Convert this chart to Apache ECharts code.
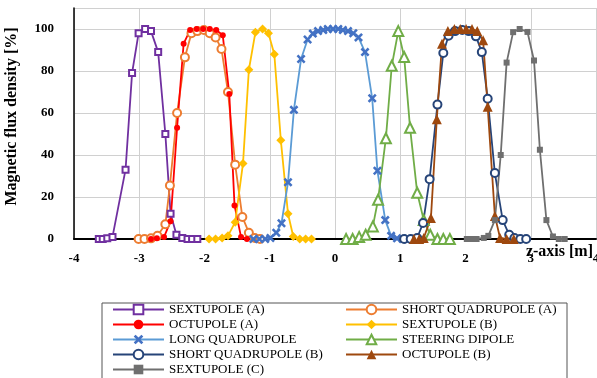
<!DOCTYPE html>
<html>
<head>
<meta charset="utf-8">
<script src="https://cdn.jsdelivr.net/npm/echarts@6/dist/echarts.min.js"></script>
<style>
  html, body { margin: 0; padding: 0; background: #fff; }
  #chart { width: 597px; height: 378px; }
</style>
</head>
<body>
<div id="chart"></div>
<script>
// z position [m], magnetic flux density [%]
const sextupoleA = [[-3.62,0],[-3.56,0],[-3.49,0.3],[-3.41,1],[-3.21,33],[-3.11,79],[-3.01,98],[-2.91,100],[-2.82,99],[-2.71,89],[-2.60,50],[-2.52,12],[-2.43,2],[-2.34,0.5],[-2.26,0],[-2.19,0],[-2.11,0]];
const shortQuadA = [[-3.01,0],[-2.92,0],[-2.82,0.3],[-2.72,1.5],[-2.60,7],[-2.53,25.5],[-2.42,60],[-2.30,86.5],[-2.20,98],[-2.11,99],[-2.01,99.5],[-1.92,98],[-1.83,96],[-1.74,90.5],[-1.64,70],[-1.53,35.4],[-1.42,10.5],[-1.32,3],[-1.23,0.5],[-1.15,0]];
const octupoleA = [[-2.82,0],[-2.73,0.3],[-2.62,1],[-2.52,8.4],[-2.42,53],[-2.32,93],[-2.22,99.5],[-2.12,100],[-2.02,100],[-1.92,100],[-1.82,99.5],[-1.72,97],[-1.62,69],[-1.54,16],[-1.44,1],[-1.35,0]];
const sextupoleB = [[-1.93,0],[-1.83,0],[-1.73,0.5],[-1.64,1.5],[-1.53,8],[-1.41,36],[-1.32,80.6],[-1.22,98.4],[-1.11,100],[-1.02,98],[-0.93,88],[-0.83,47],[-0.72,12],[-0.64,1.2],[-0.54,0],[-0.45,0],[-0.36,0]];
const longQuad = [[-1.25,0],[-1.16,0],[-1.07,0],[-0.99,0.5],[-0.90,3],[-0.82,7.5],[-0.72,27],[-0.63,61.5],[-0.52,85.7],[-0.42,95],[-0.34,97.8],[-0.26,99],[-0.18,99.5],[-0.11,100],[-0.03,100],[0.05,100],[0.12,99.5],[0.20,99],[0.28,98],[0.36,96],[0.46,89],[0.57,67],[0.65,32.5],[0.77,9],[0.86,1.5],[0.95,0.3],[1.04,0],[1.12,0]];
const steeringDipole = [[0.17,0],[0.27,0],[0.37,1],[0.47,2],[0.58,6],[0.66,18.7],[0.78,48],[0.87,82.5],[0.97,99],[1.06,86.7],[1.15,53],[1.26,22],[1.36,9],[1.46,2],[1.57,0],[1.66,0],[1.76,0]];
const shortQuadB = [[1.06,0],[1.16,0],[1.26,0.5],[1.35,7.6],[1.45,28.5],[1.57,64],[1.66,88.6],[1.74,96.8],[1.84,99],[1.95,99.5],[2.05,99],[2.16,96.5],[2.25,89],[2.34,66.8],[2.45,31.4],[2.57,9],[2.67,2],[2.75,0.5],[2.84,0],[2.93,0]];
const octupoleB = [[1.21,0],[1.29,0],[1.36,0.5],[1.47,10],[1.56,57],[1.64,93],[1.73,99],[1.83,100],[1.92,100],[2.01,100],[2.10,100],[2.18,99],[2.27,94.6],[2.34,63],[2.45,11],[2.53,0.5],[2.63,0],[2.74,0]];
const sextupoleC = [[2.02,0],[2.10,0],[2.17,0],[2.28,0.5],[2.35,1.5],[2.45,9],[2.54,40],[2.63,84],[2.73,98.5],[2.83,100],[2.95,98.6],[3.05,85],[3.14,42.5],[3.24,9],[3.34,1.2],[3.43,0],[3.52,0]];

const legendLeft = ['SEXTUPOLE (A)', 'OCTUPOLE (A)', 'LONG QUADRUPOLE', 'SHORT QUADRUPOLE (B)', 'SEXTUPOLE (C)'];
const legendRight = ['SHORT QUADRUPOLE (A)', 'SEXTUPOLE (B)', 'STEERING DIPOLE', 'OCTUPOLE (B)'];

const serif = "'Liberation Serif', 'Times New Roman', serif";
const crossPath = 'path://M0,2 L2,0 L5,3 L8,0 L10,2 L7,5 L10,8 L8,10 L5,7 L2,10 L0,8 L3,5 Z';

function mkLine(name, data, color, symbol, size, markColor) {
  return {
    name: name,
    type: 'line',
    data: data,
    symbol: symbol,
    symbolSize: size,
    showAllSymbol: true,
    lineStyle: { color: color, width: 1.8 },
    itemStyle: { color: markColor || color, borderWidth: 1.5 },
    emphasis: { disabled: true },
    animation: false
  };
}

const chart = echarts.init(document.getElementById('chart'));
chart.setOption({
  backgroundColor: '#fff',
  textStyle: { fontFamily: serif },
  grid: { left: 74, right: 1, top: 8, bottom: 139, outerBoundsMode: 'none', containLabel: false },
  xAxis: {
    type: 'value',
    min: -4, max: 4, interval: 1,
    axisLine: { onZero: false, lineStyle: { color: '#000', width: 2 } },
    axisTick: { show: false },
    axisLabel: { color: '#000', fontWeight: 'bold', fontSize: 13, margin: 13, fontFamily: serif },
    splitLine: { show: true, lineStyle: { color: '#d0d0d0', width: 1 } }
  },
  yAxis: {
    type: 'value',
    min: 0, max: 110, interval: 20,
    name: 'Magnetic flux density [%]',
    nameLocation: 'middle',
    nameGap: 54,
    nameTextStyle: { fontWeight: 'bold', fontSize: 16, color: '#000', fontFamily: serif, padding: [0, 0, 0, 14] },
    axisLine: { show: true, onZero: false, lineStyle: { color: '#000', width: 1.5 } },
    axisTick: { show: false },
    axisLabel: { color: '#000', fontWeight: 'bold', fontSize: 13, margin: 20, showMaxLabel: false, fontFamily: serif },
    splitLine: { show: true, lineStyle: { color: '#d0d0d0', width: 1 } }
  },
  legend: [
    {
      orient: 'vertical', left: 112, top: 302, padding: 0,
      itemWidth: 51, itemHeight: 12, itemGap: 0,
      textStyle: { fontSize: 13, color: '#000', lineHeight: 15, fontFamily: serif },
      data: legendLeft
    },
    {
      orient: 'vertical', left: 345, top: 302, padding: 0,
      itemWidth: 51, itemHeight: 12, itemGap: 0,
      textStyle: { fontSize: 13, color: '#000', lineHeight: 15, fontFamily: serif },
      data: legendRight
    }
  ],
  graphic: [
    {
      type: 'text', right: 4, top: 244, silent: true,
      style: { text: 'z-axis [m]', font: "bold 16px 'Liberation Serif', 'Times New Roman', serif", fill: '#000' }
    },
    {
      type: 'rect', left: 99.5, top: 300.5, silent: true,
      shape: { width: 465, height: 100 },
      style: { fill: 'none', stroke: '#555', lineWidth: 1 }
    }
  ],
  series: [
    mkLine('SEXTUPOLE (A)', sextupoleA, '#7030A0', 'emptyRect', 6),
    mkLine('SHORT QUADRUPOLE (A)', shortQuadA, '#ED7D31', 'emptyCircle', 8),
    mkLine('OCTUPOLE (A)', octupoleA, '#FF0000', 'circle', 6),
    mkLine('SEXTUPOLE (B)', sextupoleB, '#FFC000', 'diamond', 9),
    mkLine('LONG QUADRUPOLE', longQuad, '#5B9BD5', crossPath, 9, '#4472C4'),
    mkLine('STEERING DIPOLE', steeringDipole, '#70AD47', 'emptyTriangle', 10),
    mkLine('SHORT QUADRUPOLE (B)', shortQuadB, '#264478', 'emptyCircle', 8),
    mkLine('OCTUPOLE (B)', octupoleB, '#9E480E', 'triangle', 10),
    mkLine('SEXTUPOLE (C)', sextupoleC, '#6F6F6F', 'rect', 6)
  ]
});
</script>
</body>
</html>
